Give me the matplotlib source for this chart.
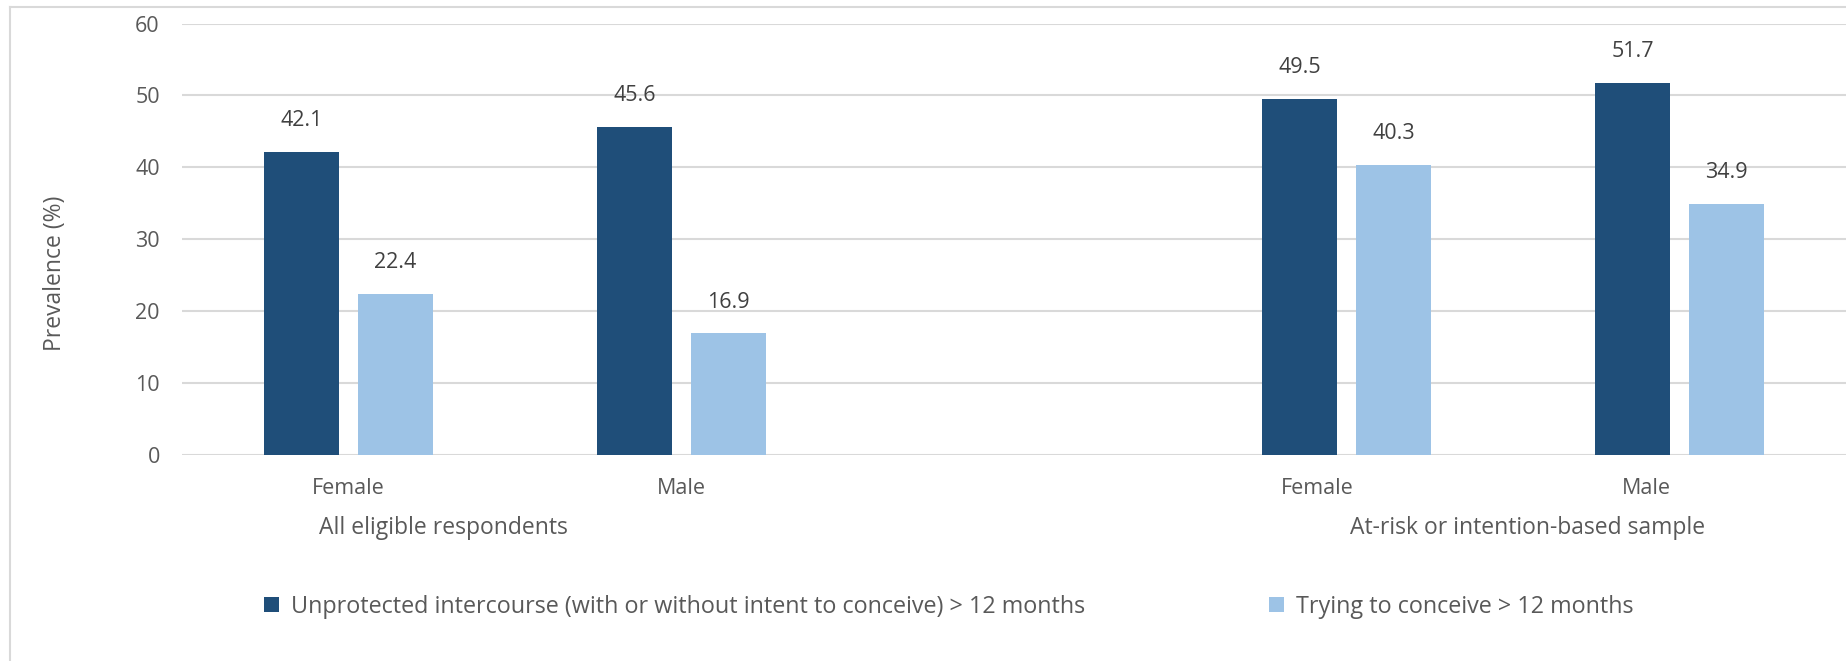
import matplotlib
matplotlib.use("Agg")
import matplotlib.pyplot as plt
from matplotlib.lines import Line2D
from matplotlib.patches import Patch
import numpy as np

plt.rcParams['font.family'] = ['Open Sans', 'DejaVu Sans']

groups = ["All eligible respondents", "At-risk or intention-based sample"]
sexes = ["Female", "Male", "Female", "Male"]
unprotected = [42.1, 45.6, 49.5, 51.7]
trying = [22.4, 16.9, 40.3, 34.9]
series_names = ["Unprotected intercourse (with or without intent to conceive) > 12 months",
                "Trying to conceive > 12 months"]

dark = "#1F4E79"
light = "#9DC3E6"
txt = "#595959"
grid = "#D9D9D9"

# five category slots, the middle one is left empty
pos = np.array([0, 1, 3, 4])
w = 0.226
off = 0.141

fig = plt.figure(figsize=(18.46, 6.61), dpi=100)
ax = fig.add_axes([0.0986, 0.3116, 0.9014, 0.6528])

b1 = ax.bar(pos - off, unprotected, w, color=dark, zorder=3)
b2 = ax.bar(pos + off, trying, w, color=light, zorder=3)

for bars, vals in [(b1, unprotected), (b2, trying)]:
    for r, v in zip(bars, vals):
        ax.annotate(f"{v:.1f}", (r.get_x() + r.get_width() / 2, v),
                    xytext=(0, 15), textcoords="offset points",
                    ha="center", va="bottom", fontsize=15.5, color="#404040")

ax.set_xlim(-0.5, 4.5)
ax.set_ylim(0, 60)
ax.set_yticks(range(0, 61, 10))
ax.yaxis.grid(True, color=grid, linewidth=1.5, zorder=0)
ax.set_axisbelow(True)
for s in ["top", "right", "left", "bottom"]:
    ax.spines[s].set_visible(False)
ax.tick_params(axis="y", length=0, pad=16, labelsize=15.5, labelcolor=txt)
ax.set_xticks([])
ax.set_ylabel("Prevalence (%)", fontsize=16.5, color=txt)
ax.yaxis.set_label_coords(-0.069, 0.42)

# sub-category labels (Excel shifts the second group slightly left)
label_x = [0, 1, 2.91, 3.9]
for x, s in zip(label_x, sexes):
    ax.text(x, -4.7, s, ha="center", va="center", fontsize=15.5, color=txt)
group_x = [0.286, 3.544]
for x, g in zip(group_x, groups):
    ax.text(x, -10.2, g, ha="center", va="center", fontsize=16.5, color=txt)

handles = [Patch(facecolor=dark), Patch(facecolor=light)]
fig.legend(handles, series_names, loc="center", bbox_to_anchor=(0.514, 0.082),
           ncol=2, frameon=False, fontsize=16.8, labelcolor=txt,
           handlelength=0.65, handleheight=0.65, handletextpad=0.5,
           columnspacing=7.9)

# chart border (cropped on the right and bottom)
fig.add_artist(Line2D([0.0054, 0.0054], [0, 0.989], transform=fig.transFigure,
                      color=grid, linewidth=1.5))
fig.add_artist(Line2D([0.0054, 1], [0.989, 0.989], transform=fig.transFigure,
                      color=grid, linewidth=1.5))

fig.savefig("out.png", dpi=100)
